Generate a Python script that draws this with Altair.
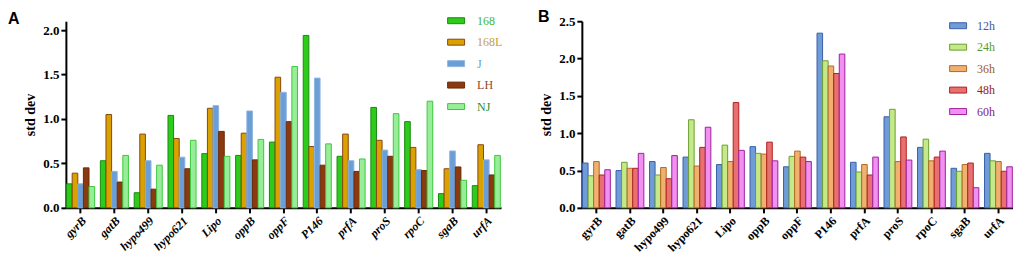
import altair as alt
import pandas as pd

genes = ["gyrB", "gatB", "hypo499", "hypo621", "Lipo", "oppB", "oppF",
         "P146", "prfA", "proS", "rpoC", "sgaB", "urfA"]

# Panel A: strains
strains = ["168", "168L", "J", "LH", "NJ"]
a_168 = [0.27, 0.53, 0.17, 1.04, 0.61, 0.59, 0.74, 1.94, 0.58, 1.13, 0.97, 0.16, 0.25]
a_168L = [0.39, 1.05, 0.83, 0.78, 1.12, 0.84, 1.47, 0.69, 0.83, 0.76, 0.68, 0.44, 0.71]
a_J = [0.27, 0.41, 0.53, 0.57, 1.15, 1.09, 1.30, 1.46, 0.53, 0.65, 0.43, 0.64, 0.54]
a_LH = [0.45, 0.29, 0.21, 0.44, 0.86, 0.54, 0.97, 0.48, 0.41, 0.58, 0.42, 0.46, 0.37]
a_NJ = [0.24, 0.59, 0.48, 0.76, 0.58, 0.77, 1.59, 0.72, 0.55, 1.06, 1.20, 0.31, 0.59]

# Panel B: time points
times = ["12h", "24h", "36h", "48h", "60h"]
b_12 = [0.60, 0.50, 0.62, 0.68, 0.58, 0.82, 0.55, 2.34, 0.61, 1.22, 0.81, 0.53, 0.73]
b_24 = [0.43, 0.61, 0.44, 1.18, 0.84, 0.73, 0.69, 1.97, 0.48, 1.32, 0.92, 0.49, 0.63]
b_36 = [0.62, 0.53, 0.54, 0.56, 0.62, 0.72, 0.76, 1.90, 0.58, 0.62, 0.63, 0.58, 0.62]
b_48 = [0.44, 0.53, 0.39, 0.81, 1.41, 0.88, 0.68, 1.80, 0.44, 0.95, 0.68, 0.60, 0.49]
b_60 = [0.51, 0.73, 0.70, 1.08, 0.77, 0.63, 0.62, 2.06, 0.68, 0.64, 0.76, 0.27, 0.55]

a_fill = ["#2ecc1a", "#d9a200", "#6a9ed6", "#8b3a0f", "#98ee98"]
a_stroke = ["#1a8a10", "#8b4513", "#8fb4e0", "#6b2a08", "#3ec83e"]
a_label = ["#3cb83c", "#c8a040", "#6a9ed6", "#8b4a2a", "#2e8b2e"]

b_fill = ["#6f9bd8", "#c4e88a", "#f0b070", "#e87070", "#f090f0"]
b_stroke = ["#3a60a8", "#6aa030", "#b06a20", "#b02020", "#a020a0"]
b_label = ["#3a5a9a", "#5a9a30", "#9a5a20", "#9a2020", "#8a2080"]


def long_df(series, arrays):
    rows = []
    for s, arr in zip(series, arrays):
        for g, v in zip(genes, arr):
            rows.append({"gene": g, "series": s, "value": v})
    return pd.DataFrame(rows)


dfA = long_df(strains, [a_168, a_168L, a_J, a_LH, a_NJ])
dfB = long_df(times, [b_12, b_24, b_36, b_48, b_60])

SERIF = "Liberation Serif"
RECT = "M-1,-0.35H1V0.35H-1Z"


def label_expr(series, colors):
    expr = "'black'"
    for s, c in reversed(list(zip(series, colors))):
        expr = f"datum.label == '{s}' ? '{c}' : ({expr})"
    return expr


def panel(df, series, fills, strokes, lcolors, ymax, width, title, title_dx,
          title_offset, italic, lx, ly, loff):
    legend = alt.Legend(
        title=None, orient="none", legendX=lx, legendY=ly,
        symbolType=RECT, symbolSize=289, symbolStrokeWidth=1,
        rowPadding=6.5, labelOffset=loff, padding=0,
        labelFont=SERIF, labelFontSize=12,
        labelColor=alt.ExprRef(label_expr(series, lcolors)),
    )
    x = alt.X(
        "gene:N", sort=genes,
        scale=alt.Scale(paddingInner=0.17, paddingOuter=0.02),
        axis=alt.Axis(
            title=None, labelAngle=-45, labelFont=SERIF, labelFontSize=12,
            labelFontWeight="bold", labelFontStyle="italic" if italic else "normal",
            labelColor="black", domainColor="black", domainWidth=2,
            tickColor="black", tickWidth=2, tickSize=5, labelPadding=2,
        ),
    )
    ticks = [0, 0.5, 1.0, 1.5, 2.0, 2.5][: int(ymax / 0.5 + 1e-6) + 1]
    y = alt.Y(
        "value:Q",
        scale=alt.Scale(domain=[0, ymax], nice=False, zero=True),
        axis=alt.Axis(
            title="std dev", values=ticks, format=".1f", grid=False,
            titleFont=SERIF, titleFontSize=14, titleFontWeight="bold",
            titleColor="black", titlePadding=5,
            labelFont=SERIF, labelFontSize=13, labelFontWeight="bold",
            labelColor="black", domainColor="black", domainWidth=2,
            tickColor="black", tickWidth=2, tickSize=5, labelPadding=2,
        ),
    )
    return alt.Chart(df).mark_bar(strokeWidth=1).encode(
        x=x,
        xOffset=alt.XOffset("series:N", sort=series,
                            scale=alt.Scale(paddingInner=0, paddingOuter=0)),
        y=y,
        color=alt.Color("series:N", sort=series,
                        scale=alt.Scale(domain=series, range=fills), legend=legend),
        stroke=alt.Stroke("series:N", sort=series,
                          scale=alt.Scale(domain=series, range=strokes), legend=legend),
    ).properties(
        width=width, height=187,
        title=alt.TitleParams(title, anchor="start", frame="group", dx=title_dx,
                              font="Liberation Sans", fontSize=16, fontWeight="bold",
                              color="black", offset=title_offset),
    )


chartA = panel(dfA, strains, a_fill, a_stroke, a_label, 2.1, 436, "A", -58, -15.5,
               True, 382, -9.5, 12)
chartB = panel(dfB, times, b_fill, b_stroke, b_label, 2.5, 432, "B", -44, -9.5,
               False, 368, -4.5, 10)

chart = alt.hconcat(chartA, chartB, spacing=35).resolve_scale(
    color="independent", stroke="independent", x="independent", y="independent",
    xOffset="independent"
).properties(
    padding={"left": 0, "top": 0, "right": 0, "bottom": 0}
).configure_view(stroke=None)

chart.save("out.html", embed_options={"renderer": "svg", "actions": False})
